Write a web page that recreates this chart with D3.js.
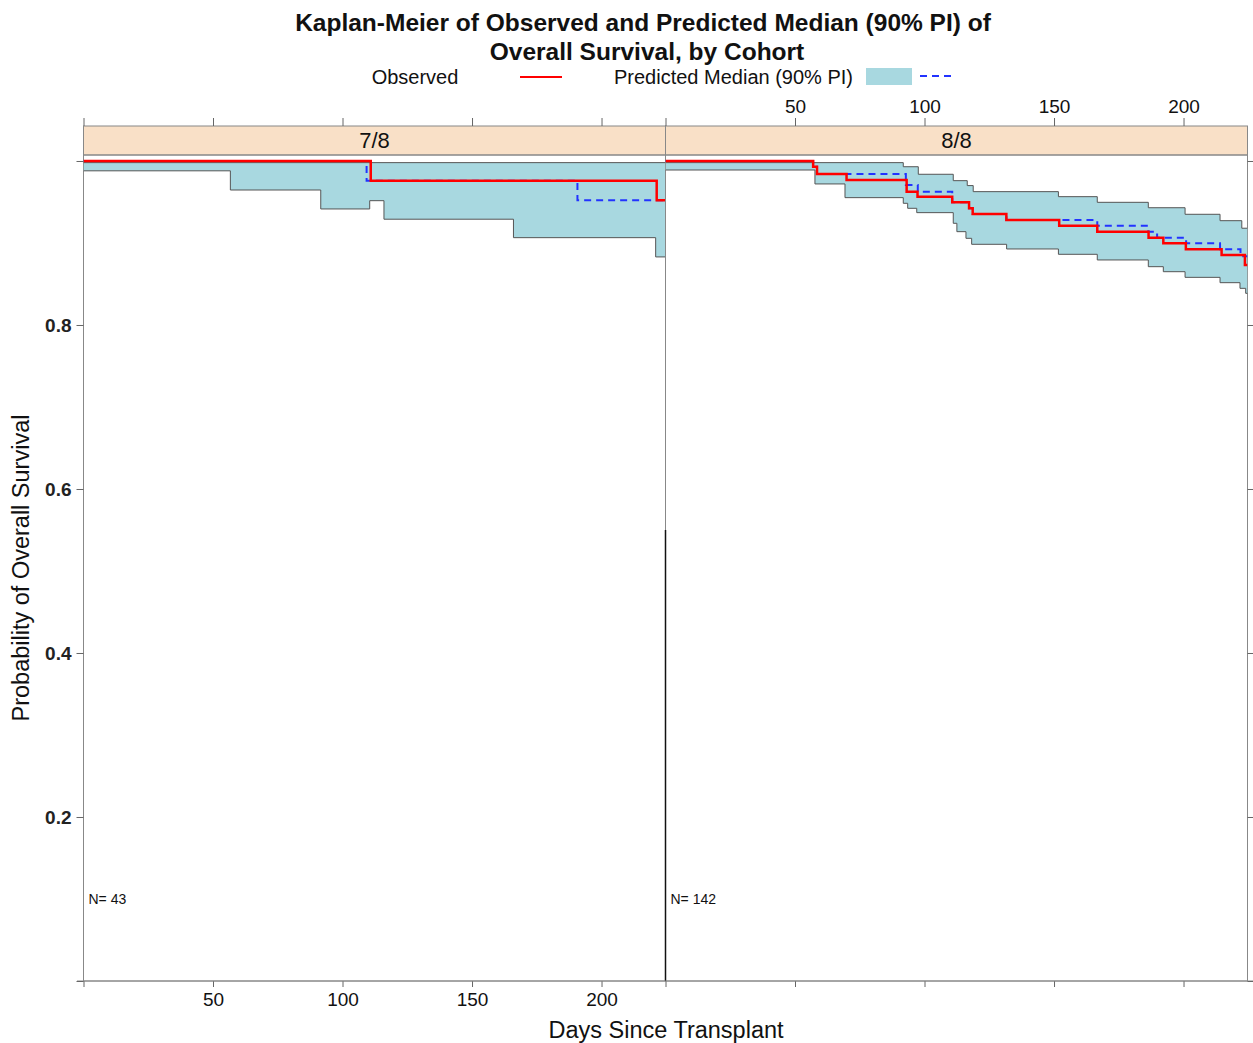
<!DOCTYPE html>
<html>
<head>
<meta charset="utf-8">
<script src="https://cdn.jsdelivr.net/npm/d3@7"></script>
<style>
  body { margin: 0; background: #fff; }
  svg { display: block; font-family: "Liberation Sans", Arial, sans-serif; }
</style>
</head>
<body>
<svg id="chart"></svg>
<script>
// cohorts and sizes
var cohorts = ["7/8", "8/8"];
var cohortN = [43, 142];

// 7/8 cohort: observed KM, predicted median, 90% PI (step times in days)
var obsTime78 = [0, 110.9, 221.3];
var obsSurv78 = [1.0, 0.976, 0.952];
var medTime78 = [0, 109.3, 190.7];
var medSurv78 = [1.0, 0.976, 0.952];
var loTime78 = [0, 56.7, 91.6, 110.5, 116, 166, 220.9];
var loSurv78 = [0.988, 0.9646, 0.9415, 0.9516, 0.929, 0.9065, 0.883];
var hiTime78 = [0];
var hiSurv78 = [0.998];

// 8/8 cohort
var obsTime88 = [0, 57.0, 58.5, 69.9, 93.1, 97.3, 110.7, 117.2, 118.6, 131.6, 152.0, 166.7, 186.5, 192.2, 200.9, 214.7, 223.7];
var obsSurv88 = [1.0, 0.993, 0.9841, 0.9768, 0.9626, 0.9565, 0.9496, 0.9423, 0.9354, 0.928, 0.9211, 0.9138, 0.9065, 0.8996, 0.8923, 0.8854, 0.8732];
var medTime88 = [0, 57.0, 58.5, 92.8, 97.4, 110.7, 117.2, 118.6, 131.6, 166.7, 186.4, 189.8, 201.0, 214.1, 222.0];
var medSurv88 = [1.0, 0.993, 0.9841, 0.9707, 0.9626, 0.9496, 0.9423, 0.9354, 0.928, 0.9211, 0.9138, 0.9065, 0.8996, 0.8923, 0.8838];
var loTime88 = [0, 57.7, 69.3, 91.8, 93.5, 97.0, 111.1, 112.5, 116.0, 118.2, 131.7, 151.7, 166.7, 186.4, 192.2, 200.6, 214.1, 221.8, 224.0];
var loSurv88 = [0.989, 0.972, 0.9553, 0.9484, 0.9423, 0.937, 0.924, 0.9138, 0.9057, 0.8984, 0.8927, 0.8862, 0.8793, 0.8711, 0.865, 0.8581, 0.8516, 0.8447, 0.8386];
var hiTime88 = [0, 91.8, 97.6, 111.1, 116.5, 118.8, 151.7, 166.7, 186.4, 200.6, 214.1, 222.5];
var hiSurv88 = [0.998, 0.993, 0.9838, 0.976, 0.970, 0.9626, 0.9565, 0.9496, 0.943, 0.935, 0.9272, 0.918];

// axis ticks
var xTicks = [0, 50, 100, 150, 200];
var yTicks = [0, 0.2, 0.4, 0.6, 0.8, 1.0];

var width = 1253, height = 1043;
var xMax = 224.7;
var panelW = 582, panelTop = 155, panelBottom = 981;
var stripTop = 126;
var panelLeft = [83.5, 665.5];

var panels = [
  {obs: [obsTime78, obsSurv78], med: [medTime78, medSurv78], lo: [loTime78, loSurv78], hi: [hiTime78, hiSurv78]},
  {obs: [obsTime88, obsSurv88], med: [medTime88, medSurv88], lo: [loTime88, loSurv88], hi: [hiTime88, hiSurv88]}
];

var svg = d3.select("#chart").attr("width", width).attr("height", height);

var y = d3.scaleLinear().domain([0, 1.0073]).range([panelBottom, panelTop]);

function stepAt(ts, vs, t) {
  var v = vs[0];
  for (var i = 0; i < ts.length; i++) { if (ts[i] <= t) v = vs[i]; }
  return v;
}
function stepPts(ts, vs) {
  var pts = ts.map(function(t, i) { return [t, vs[i]]; });
  pts.push([xMax, vs[vs.length - 1]]);
  return pts;
}

var defs = svg.append("defs");

panels.forEach(function(p, k) {
  var x = d3.scaleLinear().domain([0, xMax]).range([panelLeft[k], panelLeft[k] + panelW]);
  var g = svg.append("g");

  defs.append("clipPath").attr("id", "clip" + k)
    .append("rect").attr("x", panelLeft[k]).attr("y", panelTop)
    .attr("width", panelW).attr("height", panelBottom - panelTop);

  // strip
  g.append("rect").attr("x", panelLeft[k]).attr("y", stripTop)
    .attr("width", panelW).attr("height", panelTop - stripTop)
    .attr("fill", "#f9e0c7").attr("stroke", "#888").attr("stroke-width", 1);
  g.append("text").attr("x", panelLeft[k] + panelW / 2).attr("y", 148)
    .attr("text-anchor", "middle").attr("font-size", 22).attr("fill", "#111")
    .text(cohorts[k]);

  // panel frame
  g.append("rect").attr("x", panelLeft[k]).attr("y", panelTop)
    .attr("width", panelW).attr("height", panelBottom - panelTop)
    .attr("fill", "none").attr("stroke", "#888").attr("stroke-width", 1);

  var inner = g.append("g").attr("clip-path", "url(#clip" + k + ")");

  // 90% PI band
  var times = Array.from(new Set(p.lo[0].concat(p.hi[0]))).sort(d3.ascending);
  var band = times.map(function(t) {
    return {t: t, lo: stepAt(p.lo[0], p.lo[1], t), hi: stepAt(p.hi[0], p.hi[1], t)};
  });
  band.push({t: xMax, lo: band[band.length - 1].lo, hi: band[band.length - 1].hi});

  inner.append("path").datum(band)
    .attr("fill", "#a8d8e0")
    .attr("d", d3.area().curve(d3.curveStepAfter)
      .x(function(d) { return x(d.t); })
      .y0(function(d) { return y(d.lo); })
      .y1(function(d) { return y(d.hi); }));

  var line = d3.line().curve(d3.curveStepAfter)
    .x(function(d) { return x(d[0]); })
    .y(function(d) { return y(d[1]); });

  [p.lo, p.hi].forEach(function(s) {
    inner.append("path").datum(stepPts(s[0], s[1]))
      .attr("fill", "none").attr("stroke", "#555").attr("stroke-width", 1)
      .attr("d", line);
  });

  inner.append("path").datum(stepPts(p.med[0], p.med[1]))
    .attr("fill", "none").attr("stroke", "#2233ff").attr("stroke-width", 2)
    .attr("stroke-dasharray", "7,5").attr("d", line);

  inner.append("path").datum(stepPts(p.obs[0], p.obs[1]))
    .attr("fill", "none").attr("stroke", "#ff0000").attr("stroke-width", 2.5)
    .attr("d", line);

  g.append("text").attr("x", panelLeft[k] + 5).attr("y", y(0.1) + 5)
    .attr("font-size", 14).attr("fill", "#111")
    .text("N= " + cohortN[k]);

  // x axes: labels bottom on left panel, top on right panel
  var bottom = d3.axisBottom(x).tickValues(xTicks).tickSize(6).tickPadding(6)
    .tickFormat(function(d) { return (k === 0 && d > 0) ? d : ""; });
  var top = d3.axisTop(x).tickValues(xTicks).tickSize(8).tickPadding(5)
    .tickFormat(function(d) { return (k === 1 && d > 0) ? d : ""; });

  var ab = g.append("g").attr("transform", "translate(0," + panelBottom + ")").call(bottom);
  var at = g.append("g").attr("transform", "translate(0," + stripTop + ")").call(top);
  [ab, at].forEach(function(a) {
    a.select(".domain").remove();
    a.selectAll("line").attr("stroke", "#666");
    a.selectAll("text").attr("font-size", 19).attr("fill", "#111").attr("font-family", "Liberation Sans, Arial, sans-serif");
  });
});

// darker lower half of the divider and left edge, as in the original render
svg.append("line").attr("x1", panelLeft[1]).attr("x2", panelLeft[1])
  .attr("y1", y(0.55)).attr("y2", panelBottom).attr("stroke", "#111").attr("stroke-width", 1.5);

// bottom axis line runs a little to the left
svg.append("line").attr("x1", 77).attr("x2", 1253).attr("y1", panelBottom).attr("y2", panelBottom)
  .attr("stroke", "#888");

// y axes
var ay = svg.append("g").attr("transform", "translate(" + panelLeft[0] + ",0)")
  .call(d3.axisLeft(y).tickValues(yTicks).tickSize(7).tickPadding(5)
    .tickFormat(function(d) { return (d > 0 && d < 1) ? d3.format(".1f")(d) : ""; }));
var ay2 = svg.append("g").attr("transform", "translate(" + (panelLeft[1] + panelW) + ",0)")
  .call(d3.axisRight(y).tickValues(yTicks).tickSize(6).tickFormat(""));
[ay, ay2].forEach(function(a) {
  a.select(".domain").remove();
  a.selectAll("line").attr("stroke", "#666");
  a.selectAll("text").attr("font-size", 19).attr("font-weight", "bold").attr("fill", "#222")
    .attr("font-family", "Liberation Sans, Arial, sans-serif");
});

// titles
svg.append("text").attr("x", 643).attr("y", 31).attr("text-anchor", "middle")
  .attr("font-size", 24.5).attr("font-weight", "bold").attr("fill", "#111")
  .text("Kaplan-Meier of Observed and Predicted Median (90% PI) of");
svg.append("text").attr("x", 647).attr("y", 60).attr("text-anchor", "middle")
  .attr("font-size", 24.5).attr("font-weight", "bold").attr("fill", "#111")
  .text("Overall Survival, by Cohort");

svg.append("text").attr("x", 666).attr("y", 1038).attr("text-anchor", "middle")
  .attr("font-size", 23.5).attr("fill", "#111").text("Days Since Transplant");
svg.append("text").attr("transform", "translate(29,568) rotate(-90)")
  .attr("text-anchor", "middle").attr("font-size", 23.5).attr("fill", "#111")
  .text("Probability of Overall Survival");

// legend
var leg = svg.append("g");
leg.append("text").attr("x", 415).attr("y", 84).attr("text-anchor", "middle")
  .attr("font-size", 20).attr("fill", "#111").text("Observed");
leg.append("line").attr("x1", 520).attr("x2", 562).attr("y1", 77).attr("y2", 77)
  .attr("stroke", "#ff0000").attr("stroke-width", 2);
leg.append("text").attr("x", 614).attr("y", 84)
  .attr("font-size", 20).attr("fill", "#111").text("Predicted Median (90% PI)");
leg.append("rect").attr("x", 866).attr("y", 68).attr("width", 46).attr("height", 17)
  .attr("fill", "#a8d8e0");
leg.append("line").attr("x1", 920).attr("x2", 956).attr("y1", 76).attr("y2", 76)
  .attr("stroke", "#2233ff").attr("stroke-width", 2).attr("stroke-dasharray", "7,5");
</script>
</body>
</html>
